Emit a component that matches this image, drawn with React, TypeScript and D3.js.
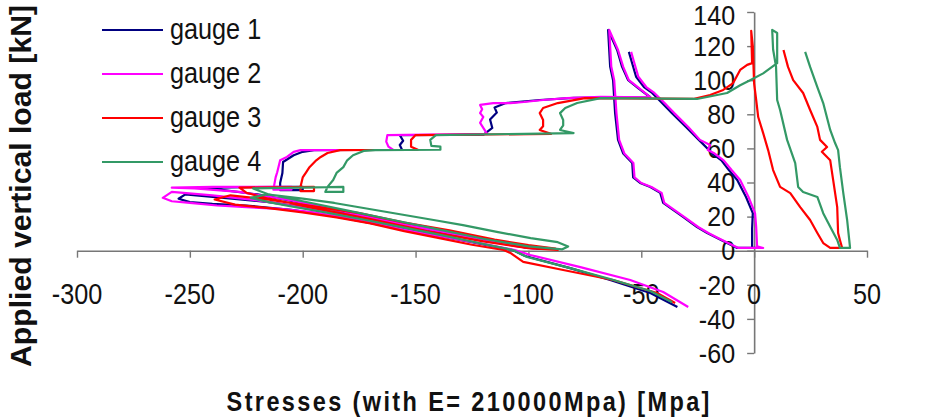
import { useRef, useEffect } from "react";
import * as d3 from "d3";

// tick values and legend entries
const xTicks = [-300, -250, -200, -150, -100, -50, 0, 50];
const yTicks = [-60, -40, -20, 0, 20, 40, 60, 80, 100, 120, 140];
const seriesNames = ["gauge 1", "gauge 2", "gauge 3", "gauge 4"];
const seriesColors = ["#000080", "#FF00FF", "#FF0000", "#339966"];

// [stress MPa, load kN]
const gauge1 = [
  [-34, -33], [-46, -24.8], [-63.8, -17.2], [-81.5, -10.2], [-101.5, -3.1], [-107, 0.4],
  [-125, 5], [-145, 10], [-165, 15], [-185, 20], [-205, 24], [-225, 26.5], [-240, 27.5], [-250, 28.5], [-255, 30.5],
  [-252, 33], [-235, 31], [-215, 28.5], [-195, 24.5], [-175, 20], [-155, 15], [-135, 10], [-115, 5], [-100, 2.2], [-95, 1],
  [-102, 2], [-125, 7.5], [-150, 14], [-175, 21], [-200, 28], [-220, 33], [-235, 35.5], [-245, 36.8],
  [-225, 37.2], [-205, 37.4], [-200, 37.4], [-200, 35.5], [-210, 35.5], [-210, 39.7],
  [-209, 45.6], [-208.7, 52], [-204, 56], [-200, 58], [-195, 59],
  [-156, 59.2], [-157, 62], [-155.5, 64.5], [-157, 67.8],
  [-120, 68], [-118, 70], [-116, 72], [-117, 77], [-114, 81], [-115, 84], [-110, 86.6], [-95, 88.4], [-80, 89.6],
  [-46, 90], [-51.4, 95.4], [-55.8, 100], [-58.5, 107.8], [-60.7, 117.7], [-64.7, 129.5],
  [-63.8, 108], [-62.5, 100], [-61.6, 80.7], [-60.3, 65], [-58, 57], [-54, 51.4], [-53.6, 43], [-50.5, 39.7],
  [-46, 37.4], [-41.6, 33.9], [-40.3, 28], [-35.9, 23.9], [-31.5, 19.8], [-25.3, 13.9], [-20.8, 10.4],
  [-16.4, 7.5], [-12, 4.5], [-7.5, 1.6], [0.4, 1.6],
  [-0.9, 1.6], [-0.9, 13], [-0.6, 22], [-3.6, 31.5], [-7.5, 41.5], [-11.2, 47.3], [-14.5, 53], [-18.5, 57],
  [-24.5, 65], [-30.2, 72.6], [-36.4, 80.7], [-42.1, 88.4], [-45.2, 92.5], [-48.8, 96], [-52.3, 102], [-54.5, 112], [-55.5, 116.6],
];

const gauge2 = [
  [-29.2, -33], [-40.3, -24.2], [-54.9, -17.2], [-77, -9.6], [-99.2, -2.5], [-106, 0.4],
  [-120, 4], [-135, 7.5], [-150, 11], [-165, 15], [-180, 19], [-195, 22.5], [-210, 24.5], [-225, 25.5], [-238, 26.5], [-250, 28], [-258, 29], [-262, 31],
  [-258, 34.5], [-240, 32.5], [-220, 29.5], [-200, 25.5], [-180, 21], [-160, 16], [-140, 11.5], [-120, 6.5], [-105, 3.3], [-97, 1.2],
  [-105, 2.5], [-130, 9], [-155, 15.5], [-180, 22.5], [-205, 29.5], [-228, 34.5], [-248, 36.5], [-258, 37],
  [-240, 37.4], [-220, 37.4], [-205, 37.4], [-205, 35.8], [-213, 35.8], [-212, 43],
  [-211.3, 46], [-210, 53], [-207, 55], [-204, 58], [-201, 59],
  [-160, 59.2], [-162, 61], [-163, 64], [-162.5, 67.8],
  [-118.3, 68.5], [-120, 72], [-121.4, 75], [-120, 78.4], [-121.4, 80.7], [-120.5, 83], [-121.4, 85.5],
  [-115.6, 86.6], [-108, 86.6], [-102, 87.2], [-93.5, 88.4], [-83, 89.5], [-68, 90.2],
  [-46, 90], [-51, 95.4], [-55.5, 100], [-58, 107.8], [-60.3, 117.7], [-64.2, 129.5],
  [-63.3, 108], [-62, 100], [-61, 80.7], [-59.8, 65], [-57.5, 57], [-53.5, 51.4], [-53, 43], [-50, 39.7],
  [-45.5, 37.4], [-41, 33.9], [-39.8, 28], [-35.4, 23.9], [-31, 19.8], [-24.8, 13.9], [-20.3, 10.4],
  [-16, 7.5], [-11.5, 4.5], [-7, 1.6], [4, 1.6],
  [1.3, 2.5], [0.9, 14], [0.4, 22], [-2.5, 31.5], [-6.2, 41.5], [-10, 47.3], [-13.5, 53], [-17.5, 57],
  [-20.5, 59], [-19.5, 62], [-24, 65], [-29.2, 72.6], [-35.4, 80.7], [-41, 88.4], [-44.2, 92.5], [-47.8, 96],
  [-51.3, 102], [-53.5, 112], [-54.5, 116.6],
];

const gauge3 = [
  [-35, -30.7], [-43, -24.8], [-62.5, -17.2], [-84.6, -11.3], [-102.3, -6.6], [-108, -1.3], [-111, 0.4],
  [-125, 3.5], [-140, 7.5], [-155, 11.5], [-170, 16], [-185, 19.5], [-200, 22.5], [-215, 25], [-230, 27], [-239, 30],
  [-232, 32.5], [-215, 30], [-195, 26], [-175, 22], [-155, 16.5], [-135, 12], [-115, 6.5], [-100, 3.3], [-88, 1.2], [-87, 0.4],
  [-100, 1.5], [-120, 5.5], [-145, 11.5], [-170, 18.5], [-195, 25], [-215, 30.5], [-225, 34], [-228, 37],
  [-195, 37.4], [-195, 35], [-201, 35], [-201, 37.4],
  [-200, 43], [-198.5, 46], [-197, 49], [-194, 53], [-192, 55], [-189, 57.3], [-183.4, 59],
  [-149, 59.2], [-152, 61], [-152, 65], [-150, 67.8],
  [-90, 68.5], [-95, 70.8], [-93.5, 73], [-93.5, 76.7], [-95, 80.7], [-93.5, 83.7], [-87, 86.6], [-75, 89.5],
  [-27, 89], [-19.5, 91.3], [-13.7, 94.3], [-9.3, 98.3], [-6.2, 106], [-3.1, 109], [-0.9, 110], [-1.3, 129], [-0.6, 120],
  [0, 98], [0.9, 88.4], [1.8, 78.4], [4, 69], [6.2, 59], [8.4, 47.3], [11.5, 37.4], [16, 33.8], [20.4, 25.6],
  [24.8, 18], [28, 10.4], [30.6, 4.5], [33.7, 1.6], [39, 1.6],
  [38, 6.3], [37.2, 10.4], [36.8, 25.6], [35, 41.5], [33.7, 53], [30, 58], [32.3, 60.8], [29.2, 65], [28, 72.6],
  [24.8, 82.5], [21.7, 92.5], [17.3, 100], [15, 107.8], [13, 117.7],
];

const gauge4 = [
  [-36.3, -30.2], [-46, -23.6], [-63.8, -16.6], [-81.5, -10.2], [-100.6, -3.7], [-107, 0.4],
  [-122, 4.5], [-138, 9], [-155, 13.5], [-172, 18], [-190, 22.5], [-205, 26], [-215, 28.5], [-223, 31],
  [-216, 33], [-200, 30.5], [-186, 28], [-164, 23], [-142, 18], [-129, 15], [-114, 11], [-99, 7.4], [-87, 5], [-82.4, 2.5], [-85, 0.8],
  [-100, 2.5], [-120, 7], [-140, 12.5], [-160, 18], [-180, 23.5], [-200, 29], [-215, 33], [-222, 36.5],
  [-182, 37.4], [-182, 34.5], [-190, 34.5], [-189, 37.4],
  [-186.5, 41.5], [-185, 45.6], [-182, 49], [-180.3, 53], [-177.7, 56], [-173, 58.5], [-168, 59],
  [-139, 59.2], [-139, 61], [-143, 61.5], [-143.5, 65], [-141, 67.8],
  [-80, 69], [-86, 70.8], [-84.6, 73.5], [-84.6, 76.7], [-86, 80.7], [-83.7, 83.7], [-78.4, 86.6], [-68, 89.5],
  [-25.3, 89], [-12, 92.5], [-6.2, 97], [-1.8, 100], [4, 104], [10.2, 110], [10.2, 127.7], [8, 129.5], [8.4, 118], [9.7, 108],
  [10.2, 88.4], [11.5, 82.5], [14.6, 65], [18.2, 51.4], [19.5, 37.4], [21.7, 34.4], [28, 31.5], [30.6, 22], [33.7, 14],
  [36.8, 6.3], [38, 1.6], [42.5, 1.6],
  [41.2, 18], [39.5, 33.8], [38, 49], [37.2, 59], [35.9, 63], [33.7, 70.8], [30.6, 86.6], [28, 96], [24.8, 107.8], [22.6, 116.6],
];

const allGauges = [gauge1, gauge2, gauge3, gauge4];

const W = 951;
const H = 418;
const FONT = "'Liberation Sans', Arial, sans-serif";

const StressChart = () => {
  const svgRef = useRef(null);

  useEffect(() => {
    const svg = d3.select(svgRef.current);
    svg.selectAll("*").remove();

    const x = d3.scaleLinear().domain([-300, 50]).range([77, 867]);
    const y = d3.scaleLinear().domain([-60, 140]).range([353, 12]);
    const axisColor = "#777";

    // x axis drawn through load = 0
    const xAxis = svg
      .append("g")
      .attr("transform", `translate(0,${y(0)})`)
      .call(d3.axisBottom(x).tickValues(xTicks).tickSize(7).tickSizeOuter(0).tickFormat(() => ""));
    xAxis.select(".domain").attr("stroke", axisColor).attr("stroke-width", 1.6);
    xAxis.selectAll(".tick line").attr("stroke", axisColor).attr("stroke-width", 1.4);

    // y axis drawn through stress = 0
    const yAxis = svg
      .append("g")
      .attr("transform", `translate(${x(0)},0)`)
      .call(d3.axisLeft(y).tickValues(yTicks).tickSize(7).tickSizeOuter(0).tickFormat(() => ""));
    yAxis.select(".domain").attr("stroke", axisColor).attr("stroke-width", 1.6);
    yAxis.selectAll(".tick line").attr("stroke", axisColor).attr("stroke-width", 1.4);

    // tick labels (narrow, Excel-like)
    svg
      .append("g")
      .selectAll("text")
      .data(xTicks)
      .join("text")
      .attr("transform", (d) => `translate(${x(d)},${y(0) + 53}) scale(0.87,1)`)
      .attr("text-anchor", "middle")
      .attr("font-family", FONT)
      .attr("font-size", 29)
      .attr("fill", "#111")
      .text((d) => d);

    // top label kept inside the svg edge
    svg
      .append("g")
      .selectAll("text")
      .data(yTicks)
      .join("text")
      .attr("transform", (d) => `translate(${x(0) - 19},${Math.max(y(d), 15)}) scale(0.93,1)`)
      .attr("dy", "0.36em")
      .attr("text-anchor", "end")
      .attr("font-family", FONT)
      .attr("font-size", 27)
      .attr("fill", "#111")
      .text((d) => d);

    // series
    const line = d3
      .line()
      .x((d) => x(d[0]))
      .y((d) => y(d[1]));

    svg
      .append("g")
      .selectAll("path")
      .data(allGauges)
      .join("path")
      .attr("d", (d) => line(d))
      .attr("fill", "none")
      .attr("stroke", (_, i) => seriesColors[i])
      .attr("stroke-width", 2.2)
      .attr("stroke-linejoin", "round");

    // legend
    const legend = svg
      .append("g")
      .selectAll("g")
      .data(seriesNames)
      .join("g")
      .attr("transform", (_, i) => `translate(102,${30 + i * 44})`);
    legend
      .append("line")
      .attr("x1", 0)
      .attr("x2", 61)
      .attr("stroke", (_, i) => seriesColors[i])
      .attr("stroke-width", 2.2);
    legend
      .append("text")
      .attr("transform", "translate(68,8.5) scale(0.87,1)")
      .attr("font-family", FONT)
      .attr("font-size", 29)
      .attr("fill", "#111")
      .text((d) => d);

    // axis titles
    svg
      .append("text")
      .attr("transform", "translate(468,411) scale(0.87,1)")
      .attr("text-anchor", "middle")
      .attr("font-family", FONT)
      .attr("font-size", 27)
      .attr("font-weight", "bold")
      .attr("fill", "#111")
      .attr("textLength", 555)
      .attr("lengthAdjust", "spacing")
      .text("Stresses (with E= 210000Mpa) [Mpa]");

    svg
      .append("text")
      .attr("transform", "translate(31,186) rotate(-90)")
      .attr("text-anchor", "middle")
      .attr("font-family", FONT)
      .attr("font-size", 30)
      .attr("font-weight", "bold")
      .attr("fill", "#111")
      .attr("textLength", 362)
      .attr("lengthAdjust", "spacingAndGlyphs")
      .text("Applied vertical load [kN]");
  }, []);

  return (
    <svg
      ref={svgRef}
      width={W}
      height={H}
      style={{ position: "absolute", left: 0, top: 0, background: "#fff" }}
    ></svg>
  );
};

export default function App() {
  return <StressChart />;
}
